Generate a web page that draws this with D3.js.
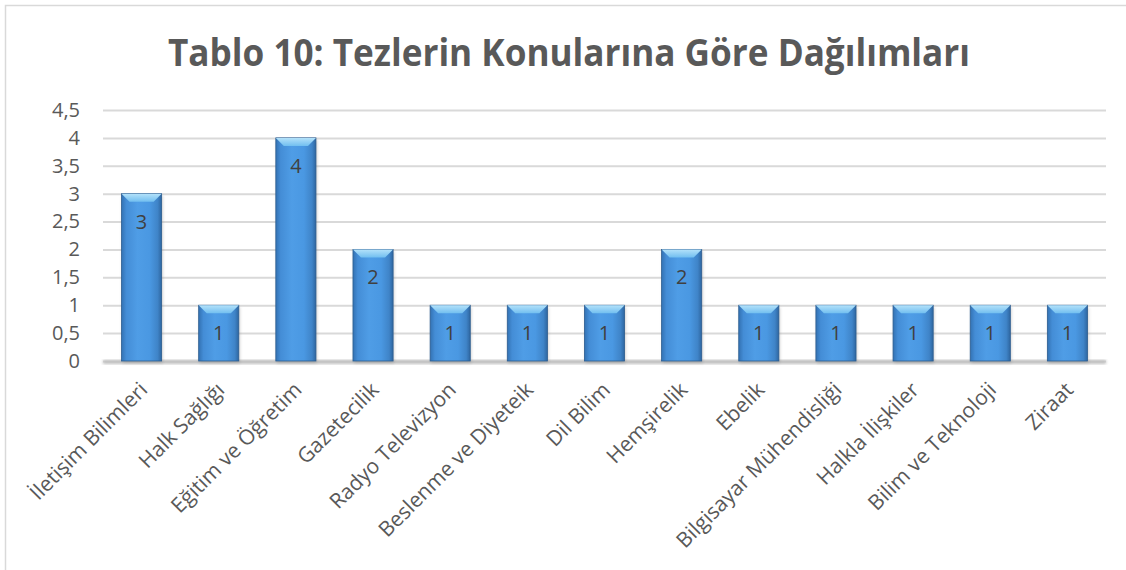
<!DOCTYPE html>
<html>
<head>
<meta charset="utf-8">
<script src="https://cdn.jsdelivr.net/npm/d3@7"></script>
<style>
  html, body { margin: 0; padding: 0; background: #fff; }
  svg { display: block; }
</style>
</head>
<body>
<svg id="chart" width="1126" height="570"></svg>
<script>
// Thesis counts by subject
const categories = [
  "İletişim Bilimleri", "Halk Sağlığı", "Eğitim ve Öğretim", "Gazetecilik",
  "Radyo Televizyon", "Beslenme ve Diyeteik", "Dil Bilim", "Hemşirelik",
  "Ebelik", "Bilgisayar Mühendisliği", "Halkla İlişkiler", "Bilim ve Teknoloji", "Ziraat"
];
const values = [3, 1, 4, 2, 1, 1, 1, 2, 1, 1, 1, 1, 1];
const yTicks = [0, 0.5, 1, 1.5, 2, 2.5, 3, 3.5, 4, 4.5];
const titleText = "Tablo 10: Tezlerin Konularına Göre Dağılımları";

const W = 1126, H = 570;
const margin = { left: 103, right: 20, top: 110, bottom: 209 };
const svg = d3.select("#chart");
const font = "'Open Sans', 'Noto Sans', sans-serif";
const textColor = "#595959";

// Chart frame
svg.append("rect")
  .attr("x", 5.5).attr("y", 5.5)
  .attr("width", W + 20).attr("height", H + 20)
  .attr("fill", "#fff").attr("stroke", "#d9d9d9").attr("stroke-width", 1.5);

// Title
svg.append("text")
  .attr("x", 168).attr("y", 66)
  .attr("font-family", font).attr("font-weight", 700)
  .attr("font-size", 38).attr("fill", textColor)
  .attr("textLength", 802).attr("lengthAdjust", "spacingAndGlyphs")
  .text(titleText);

const x = d3.scaleBand()
  .domain(categories)
  .range([margin.left, 1106])
  .paddingInner(0.48).paddingOuter(0.24);

const y = d3.scaleLinear()
  .domain([0, 4.5])
  .range([361, 110]);

const defs = svg.append("defs");
const body = defs.append("linearGradient").attr("id", "barBody")
  .attr("x1", "0%").attr("x2", "100%").attr("y1", "0%").attr("y2", "0%");
[["0%", "#3372b3"], ["12%", "#448dd6"], ["40%", "#4f9de6"], ["70%", "#4a98e2"], ["90%", "#3f84c8"], ["100%", "#2e66a0"]]
  .forEach(([o, c]) => body.append("stop").attr("offset", o).attr("stop-color", c));

const bevel = defs.append("linearGradient").attr("id", "barTop")
  .attr("x1", "0%").attr("x2", "0%").attr("y1", "0%").attr("y2", "100%");
[["0%", "#b4e2fa"], ["100%", "#72bff0"]]
  .forEach(([o, c]) => bevel.append("stop").attr("offset", o).attr("stop-color", c));

const shade = defs.append("filter").attr("id", "soft").attr("x", "-20%").attr("y", "-20%").attr("width", "140%").attr("height", "140%");
shade.append("feGaussianBlur").attr("stdDeviation", 1.5);

// Gridlines and value axis
const yAxis = d3.axisLeft(y).tickValues(yTicks)
  .tickSize(-(1106 - margin.left))
  .tickFormat(d => String(d).replace(".", ","));
const gy = svg.append("g").attr("transform", `translate(${margin.left},0)`).call(yAxis);
gy.select(".domain").remove();
gy.selectAll(".tick line").attr("stroke", "#d9d9d9").attr("stroke-width", 2);
gy.selectAll(".tick text")
  .attr("x", -23).attr("font-family", font).attr("font-size", 20)
  .attr("fill", textColor);

// Baseline shadow
svg.append("rect")
  .attr("x", margin.left).attr("y", y(0) - 1)
  .attr("width", 1106 - margin.left).attr("height", 4)
  .attr("fill", "#bfbfbf").attr("filter", "url(#soft)");

const bars = svg.append("g").selectAll("g.bar")
  .data(categories.map((c, i) => ({ c, v: values[i] })))
  .join("g").attr("class", "bar");

// Bar shadow
bars.append("rect")
  .attr("x", d => x(d.c) + 1).attr("y", d => y(d.v) + 2)
  .attr("width", x.bandwidth()).attr("height", d => y(0) - y(d.v))
  .attr("fill", "#8a8a8a").attr("opacity", 0.45).attr("filter", "url(#soft)");

bars.append("rect")
  .attr("x", d => x(d.c)).attr("y", d => y(d.v))
  .attr("width", x.bandwidth()).attr("height", d => y(0) - y(d.v))
  .attr("fill", "url(#barBody)").attr("stroke", "#2c5d90").attr("stroke-width", 0.8);

// Top bevel
const bev = 8;
bars.append("path")
  .attr("d", d => {
    const x0 = x(d.c), x1 = x0 + x.bandwidth(), t = y(d.v);
    return `M${x0},${t} L${x1},${t} L${x1 - bev},${t + bev} L${x0 + bev},${t + bev} Z`;
  })
  .attr("fill", "url(#barTop)");

// Value labels
bars.append("text")
  .attr("x", d => x(d.c) + x.bandwidth() / 2)
  .attr("y", d => y(d.v) + 35)
  .attr("text-anchor", "middle")
  .attr("font-family", font).attr("font-size", 20)
  .attr("fill", "#404040")
  .text(d => d.v);

// Category labels
const xAxis = d3.axisBottom(x).tickSize(0);
const gx = svg.append("g").attr("transform", `translate(0,${y(0)})`).call(xAxis);
gx.select(".domain").remove();
gx.selectAll(".tick text")
  .attr("font-family", font).attr("font-size", 21)
  .attr("fill", textColor)
  .attr("text-anchor", "end")
  .attr("dy", 0)
  .attr("transform", "translate(5,28) rotate(-45)");
</script>
</body>
</html>
